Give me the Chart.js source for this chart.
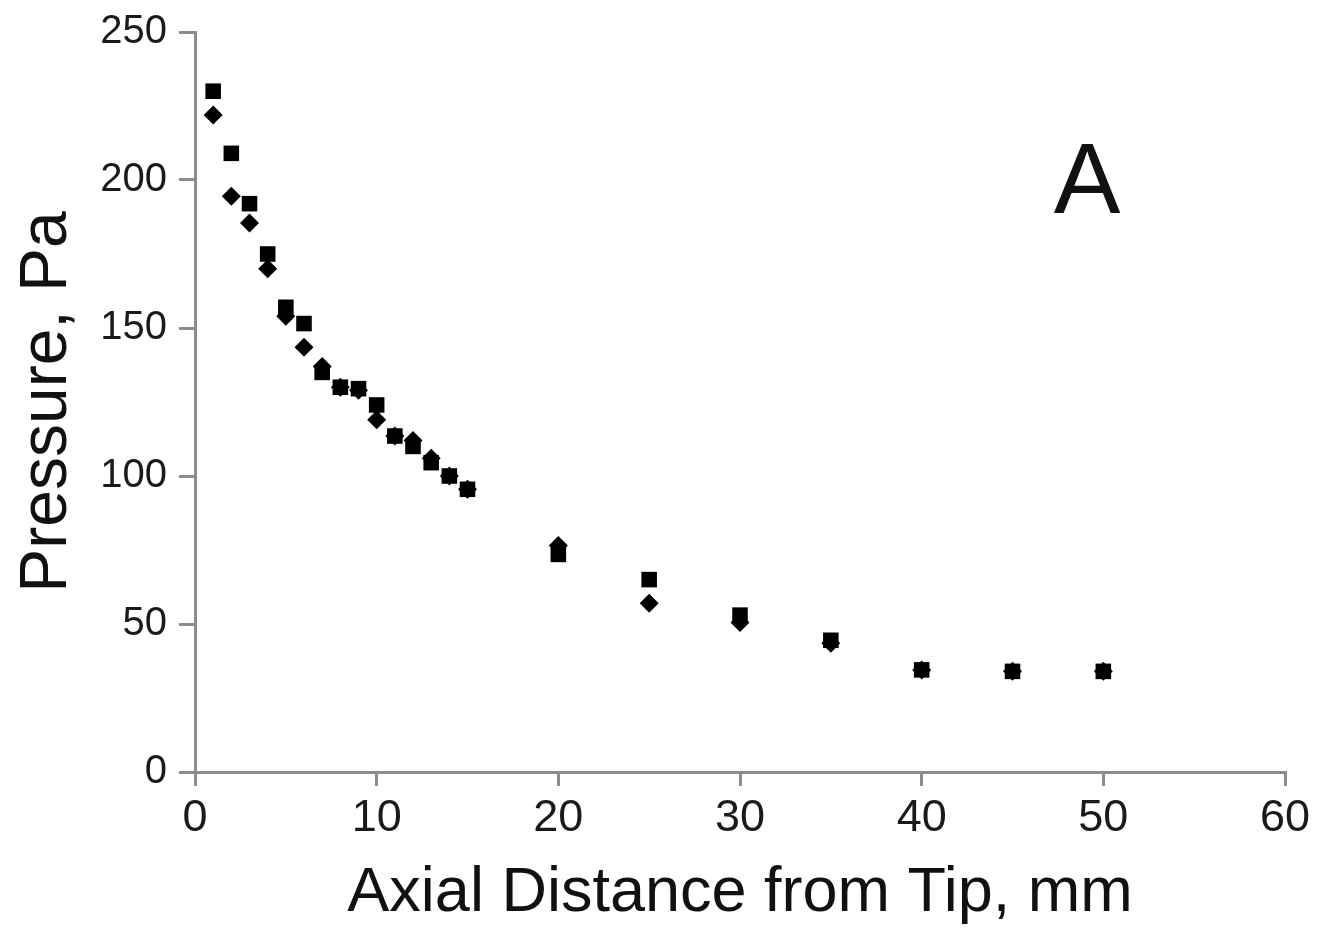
<!DOCTYPE html>
<html>
<head>
<meta charset="utf-8">
<script src="https://cdn.jsdelivr.net/npm/chart.js@4/dist/chart.umd.min.js"></script>
<style>
  html, body { margin: 0; padding: 0; background: #fff; }
  canvas { display: block; }
</style>
</head>
<body>
<canvas id="myChart" width="1319" height="931"></canvas>
<script>
// distance from tip (mm) and the two pressure series (Pa)
const distance = [1, 2, 3, 4, 5, 6, 7, 8, 9, 10, 11, 12, 13, 14, 15, 20, 25, 30, 35, 40, 45, 50];
const pressureSquares = [230, 209, 192, 175, 157, 151.5, 135, 130, 129.5, 124, 113.5, 110, 104.5, 100, 95.5, 73.5, 65, 53, 44.5, 34.5, 34, 34];
const pressureDiamonds = [222, 194.5, 185.5, 170, 154, 143.5, 137, 130, 129, 119, 113.5, 112, 106, 100, 95.5, 76.5, 57, 50.5, 43.5, 34.5, 34, 34];
const xTicks = [0, 10, 20, 30, 40, 50, 60];
const yTicks = [0, 50, 100, 150, 200, 250];

const FONT = '"Liberation Sans", Arial, sans-serif';
const axisGrey = '#8c8c8c';

function toPoints(xs, ys) {
    return xs.map(function (x, i) { return { x: x, y: ys[i] }; });
}

// panel letter in the upper right
const panelLabel = {
    id: 'panelLabel',
    afterDraw: function (chart) {
        const ctx = chart.ctx;
        const x = chart.scales.x.getPixelForValue(49.1);
        const y = chart.scales.y.getPixelForValue(189);
        ctx.save();
        ctx.fillStyle = '#111';
        ctx.font = '100px ' + FONT;
        ctx.textAlign = 'center';
        ctx.textBaseline = 'alphabetic';
        ctx.fillText('A', x, y);
        ctx.restore();
    }
};

const canvas = document.getElementById('myChart').getContext('2d');
new Chart(canvas, {
    type: 'scatter',
    data: {
        datasets: [{
            label: 'diamonds',
            data: toPoints(distance, pressureDiamonds),
            pointStyle: 'rectRot',
            pointRadius: 9.5,
            backgroundColor: '#000',
            borderColor: '#000',
            borderWidth: 0
        }, {
            label: 'squares',
            data: toPoints(distance, pressureSquares),
            pointStyle: 'rect',
            pointRadius: 11,
            backgroundColor: '#000',
            borderColor: '#000',
            borderWidth: 0
        }]
    },
    options: {
        responsive: false,
        animation: false,
        layout: { padding: { top: 32, right: 34, left: 0, bottom: 0 } },
        plugins: { legend: { display: false }, tooltip: { enabled: false } },
        scales: {
            x: {
                type: 'linear',
                min: 0, max: 60,
                afterFit: function (s) { s.height = 159; },
                afterBuildTicks: function (s) { s.ticks = xTicks.map(function (v) { return { value: v }; }); },
                border: { color: axisGrey, width: 3 },
                grid: { drawOnChartArea: false, drawTicks: true, tickLength: 14, color: axisGrey, lineWidth: 3 },
                ticks: { color: '#1a1a1a', padding: 6, maxRotation: 0, font: { family: FONT, size: 45 } },
                title: {
                    display: true,
                    text: 'Axial Distance from Tip, mm',
                    color: '#111',
                    padding: { top: 0, bottom: 0 },
                    font: { family: FONT, size: 63 }
                }
            },
            y: {
                type: 'linear',
                min: 0, max: 250,
                afterFit: function (s) { s.width = 195; },
                afterBuildTicks: function (s) { s.ticks = yTicks.map(function (v) { return { value: v }; }); },
                border: { color: axisGrey, width: 3 },
                grid: { drawOnChartArea: false, drawTicks: true, tickLength: 16, color: axisGrey, lineWidth: 3 },
                ticks: { color: '#1a1a1a', padding: 12, font: { family: FONT, size: 40, lineHeight: 1 } },
                title: {
                    display: true,
                    text: 'Pressure, Pa',
                    color: '#111',
                    padding: { top: 8, bottom: 0 },
                    font: { family: FONT, size: 66 }
                }
            }
        }
    },
    plugins: [panelLabel]
});
</script>
</body>
</html>
